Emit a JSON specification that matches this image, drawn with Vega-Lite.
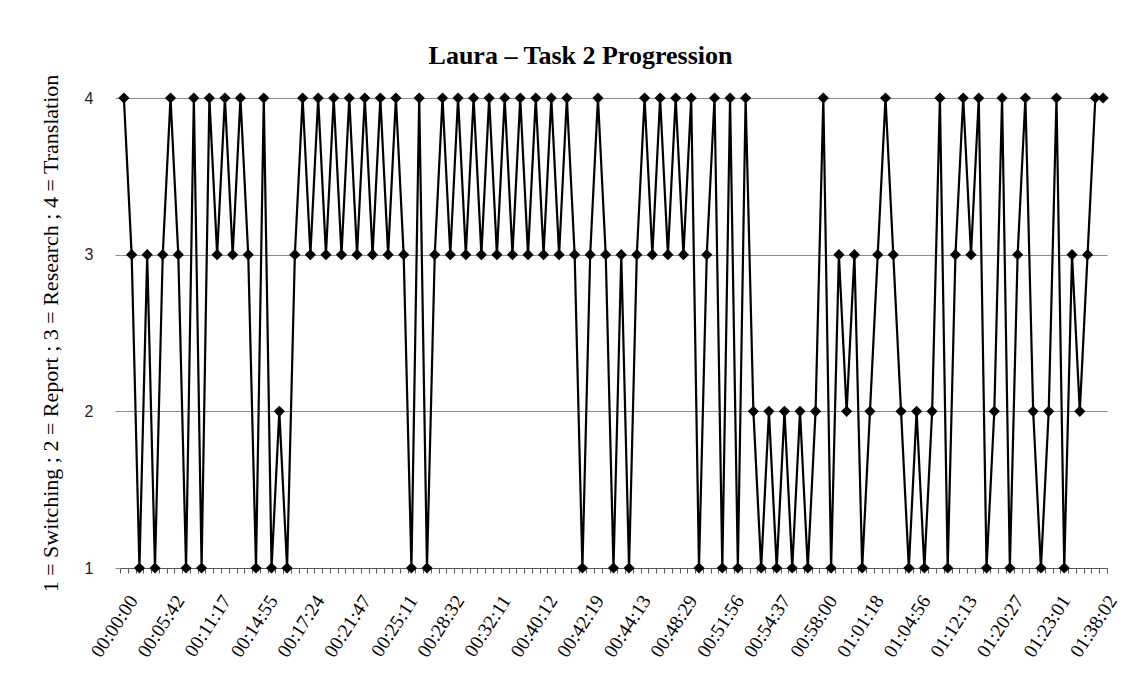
{
  "$schema": "https://vega.github.io/schema/vega-lite/v6.json",
  "width": 987,
  "height": 470,
  "autosize": {"type": "none"},
  "padding": {"left": 120, "top": 98, "right": 27, "bottom": 123},
  "background": "white",
  "config": {"view": {"stroke": null}, "font": "Liberation Serif"},
  "title": {"text": "Laura – Task 2 Progression", "font": "Liberation Serif", "fontSize": 26, "fontWeight": "bold", "color": "black", "anchor": "middle", "dx": -33, "offset": 5},
  "data": {"values": [
    {"step":0,"time":"00:00:00","code":4},{"step":1,"code":3},{"step":2,"code":1},{"step":3,"code":3},{"step":4,"code":1},{"step":5,"code":3},
    {"step":6,"time":"00:05:42","code":4},{"step":7,"code":3},{"step":8,"code":1},{"step":9,"code":4},{"step":10,"code":1},{"step":11,"code":4},
    {"step":12,"time":"00:11:17","code":3},{"step":13,"code":4},{"step":14,"code":3},{"step":15,"code":4},{"step":16,"code":3},{"step":17,"code":1},
    {"step":18,"time":"00:14:55","code":4},{"step":19,"code":1},{"step":20,"code":2},{"step":21,"code":1},{"step":22,"code":3},{"step":23,"code":4},
    {"step":24,"time":"00:17:24","code":3},{"step":25,"code":4},{"step":26,"code":3},{"step":27,"code":4},{"step":28,"code":3},{"step":29,"code":4},
    {"step":30,"time":"00:21:47","code":3},{"step":31,"code":4},{"step":32,"code":3},{"step":33,"code":4},{"step":34,"code":3},{"step":35,"code":4},
    {"step":36,"time":"00:25:11","code":3},{"step":37,"code":1},{"step":38,"code":4},{"step":39,"code":1},{"step":40,"code":3},{"step":41,"code":4},
    {"step":42,"time":"00:28:32","code":3},{"step":43,"code":4},{"step":44,"code":3},{"step":45,"code":4},{"step":46,"code":3},{"step":47,"code":4},
    {"step":48,"time":"00:32:11","code":3},{"step":49,"code":4},{"step":50,"code":3},{"step":51,"code":4},{"step":52,"code":3},{"step":53,"code":4},
    {"step":54,"time":"00:40:12","code":3},{"step":55,"code":4},{"step":56,"code":3},{"step":57,"code":4},{"step":58,"code":3},{"step":59,"code":1},
    {"step":60,"time":"00:42:19","code":3},{"step":61,"code":4},{"step":62,"code":3},{"step":63,"code":1},{"step":64,"code":3},{"step":65,"code":1},
    {"step":66,"time":"00:44:13","code":3},{"step":67,"code":4},{"step":68,"code":3},{"step":69,"code":4},{"step":70,"code":3},{"step":71,"code":4},
    {"step":72,"time":"00:48:29","code":3},{"step":73,"code":4},{"step":74,"code":1},{"step":75,"code":3},{"step":76,"code":4},{"step":77,"code":1},
    {"step":78,"time":"00:51:56","code":4},{"step":79,"code":1},{"step":80,"code":4},{"step":81,"code":2},{"step":82,"code":1},{"step":83,"code":2},
    {"step":84,"time":"00:54:37","code":1},{"step":85,"code":2},{"step":86,"code":1},{"step":87,"code":2},{"step":88,"code":1},{"step":89,"code":2},
    {"step":90,"time":"00:58:00","code":4},{"step":91,"code":1},{"step":92,"code":3},{"step":93,"code":2},{"step":94,"code":3},{"step":95,"code":1},
    {"step":96,"time":"01:01:18","code":2},{"step":97,"code":3},{"step":98,"code":4},{"step":99,"code":3},{"step":100,"code":2},{"step":101,"code":1},
    {"step":102,"time":"01:04:56","code":2},{"step":103,"code":1},{"step":104,"code":2},{"step":105,"code":4},{"step":106,"code":1},{"step":107,"code":3},
    {"step":108,"time":"01:12:13","code":4},{"step":109,"code":3},{"step":110,"code":4},{"step":111,"code":1},{"step":112,"code":2},{"step":113,"code":4},
    {"step":114,"time":"01:20:27","code":1},{"step":115,"code":3},{"step":116,"code":4},{"step":117,"code":2},{"step":118,"code":1},{"step":119,"code":2},
    {"step":120,"time":"01:23:01","code":4},{"step":121,"code":1},{"step":122,"code":3},{"step":123,"code":2},{"step":124,"code":3},{"step":125,"code":4},
    {"step":126,"time":"01:38:02","code":4}
  ]},
  "mark": {"type": "line", "color": "black", "strokeWidth": 2.2, "clip": false,
    "point": {"shape": "diamond", "size": 125, "filled": true, "color": "black", "opacity": 1}},
  "encoding": {
    "x": {"field": "step", "type": "quantitative",
      "scale": {"domain": [-0.5, 126.5], "nice": false, "zero": false},
      "axis": {
        "title": null, "grid": false,
        "values": [-0.5,0.5,1.5,2.5,3.5,4.5,5.5,6.5,7.5,8.5,9.5,10.5,11.5,12.5,13.5,14.5,15.5,16.5,17.5,18.5,19.5,20.5,21.5,22.5,23.5,24.5,25.5,26.5,27.5,28.5,29.5,30.5,31.5,32.5,33.5,34.5,35.5,36.5,37.5,38.5,39.5,40.5,41.5,42.5,43.5,44.5,45.5,46.5,47.5,48.5,49.5,50.5,51.5,52.5,53.5,54.5,55.5,56.5,57.5,58.5,59.5,60.5,61.5,62.5,63.5,64.5,65.5,66.5,67.5,68.5,69.5,70.5,71.5,72.5,73.5,74.5,75.5,76.5,77.5,78.5,79.5,80.5,81.5,82.5,83.5,84.5,85.5,86.5,87.5,88.5,89.5,90.5,91.5,92.5,93.5,94.5,95.5,96.5,97.5,98.5,99.5,100.5,101.5,102.5,103.5,104.5,105.5,106.5,107.5,108.5,109.5,110.5,111.5,112.5,113.5,114.5,115.5,116.5,117.5,118.5,119.5,120.5,121.5,122.5,123.5,124.5,125.5,126.5],
        "labelExpr": "(datum.value + 0.5) % 6 == 0 ? ['00:00:00','00:05:42','00:11:17','00:14:55','00:17:24','00:21:47','00:25:11','00:28:32','00:32:11','00:40:12','00:42:19','00:44:13','00:48:29','00:51:56','00:54:37','00:58:00','01:01:18','01:04:56','01:12:13','01:20:27','01:23:01','01:38:02'][(datum.value + 0.5) / 6] : ''",
        "labelOffset": 5.5,
        "labelAngle": -57, "labelAlign": "right", "labelBaseline": "top",
        "labelPadding": 19, "labelFontSize": 19.5, "labelFont": "Liberation Serif", "labelColor": "black",
        "labelOverlap": false, "labelBound": false, "labelFlush": false,
        "domain": true, "domainColor": "#595959", "domainWidth": 1,
        "ticks": true, "tickSize": 5, "tickColor": "#595959", "tickWidth": 1
      }
    },
    "y": {"field": "code", "type": "quantitative",
      "scale": {"domain": [1, 4], "nice": false, "zero": false},
      "axis": {
        "title": "1 = Switching ; 2 = Report ; 3 = Research ; 4 = Translation",
        "titleFont": "Liberation Serif", "titleFontSize": 22, "titleFontWeight": "normal", "titleColor": "black", "titlePadding": 22,
        "values": [1, 2, 3, 4], "format": "d",
        "grid": true, "gridColor": "#8c8c8c", "gridWidth": 1,
        "domain": false, "ticks": true, "tickSize": 5, "tickColor": "#8c8c8c",
        "labelPadding": 22, "labelFontSize": 16, "labelFont": "Liberation Sans", "labelColor": "#222222"
      }
    }
  }
}
